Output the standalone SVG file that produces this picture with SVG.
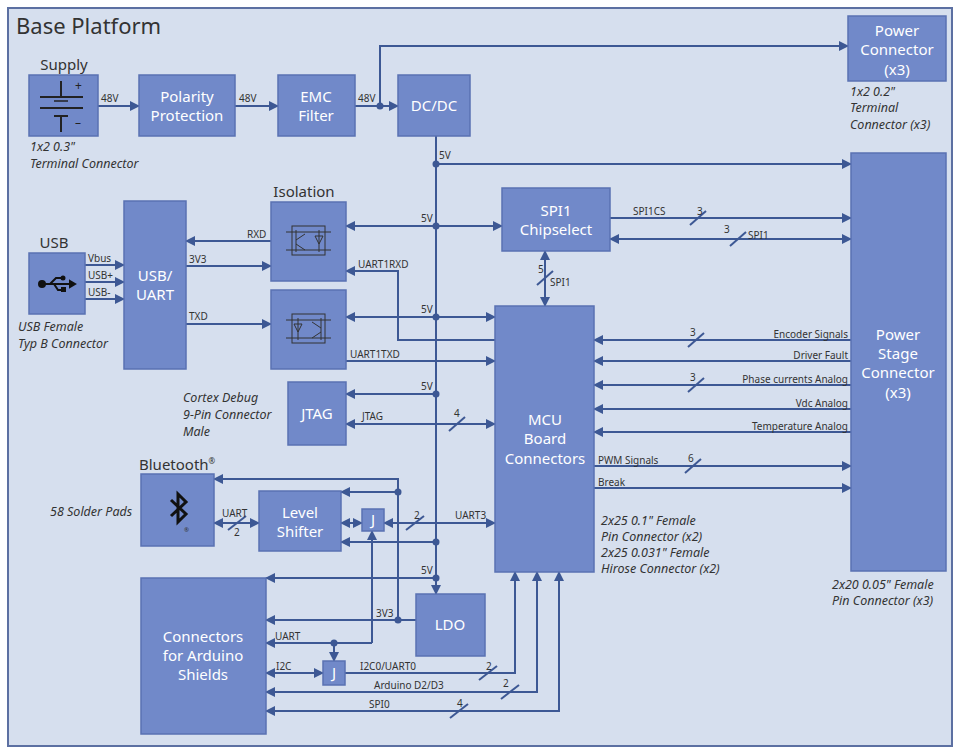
<svg xmlns="http://www.w3.org/2000/svg" width="960" height="754" viewBox="0 0 960 754">
<defs>
<marker id="a" viewBox="0 0 10 10" refX="9" refY="5" markerWidth="5" markerHeight="5" orient="auto-start-reverse"><path d="M0,0 L10,5 L0,10 z" fill="#3d5894"/></marker>
<style>
.b{fill:#7189c9;stroke:#5a72b2;stroke-width:1.5}
.t{font-family:"Noto Sans","Open Sans",sans-serif;font-size:15px;fill:#fff;text-anchor:middle}
.l{font-family:"Noto Sans","Open Sans",sans-serif;font-size:10px;fill:#333}
.i{font-family:"Noto Sans","Open Sans",sans-serif;font-size:12.5px;fill:#333;font-style:italic}
.h{font-family:"Noto Sans","Open Sans",sans-serif;font-size:15px;fill:#333}
.c path,.c line{fill:none;stroke:#3d5894;stroke-width:2}
.e{marker-end:url(#a)}
.d{marker-end:url(#a);marker-start:url(#a)}
.s{stroke:#3d5894;stroke-width:1.5}
.dot{fill:#3d5894}
.ic{stroke:#222;fill:none;stroke-width:2}
</style>
</defs>
<rect x="0" y="0" width="960" height="754" fill="#fff"/>
<rect x="8" y="8" width="944" height="738" fill="#d6dfee" stroke="#5c70a2" stroke-width="2"/>
<text x="16" y="34" font-family="Noto Sans,Open Sans,sans-serif" font-size="22" fill="#333">Base Platform</text>

<g class="c">
<line class="e" x1="98" y1="106" x2="139" y2="106"/>
<line class="e" x1="235" y1="106" x2="278" y2="106"/>
<line class="e" x1="355" y1="106" x2="398" y2="106"/>
<path class="e" d="M380,106 V46 H848"/>
<path class="e" d="M436,136 V594"/>
<line class="e" x1="436" y1="164" x2="851" y2="164"/>
<line class="d" x1="346" y1="226" x2="502" y2="226"/>
<line class="e" x1="271" y1="241" x2="186" y2="241"/>
<line class="e" x1="186" y1="266" x2="271" y2="266"/>
<path class="e" d="M495,340 H398 V271 H346"/>
<line class="d" x1="346" y1="317" x2="495" y2="317"/>
<line class="e" x1="186" y1="324" x2="271" y2="324"/>
<line class="e" x1="346" y1="361" x2="495" y2="361"/>
<line class="e" x1="85" y1="265" x2="124" y2="265"/>
<line class="e" x1="85" y1="282" x2="124" y2="282"/>
<line class="e" x1="85" y1="299" x2="124" y2="299"/>
<line class="e" x1="436" y1="394" x2="346" y2="394"/>
<line class="d" x1="346" y1="424" x2="495" y2="424"/>
<line class="e" x1="610" y1="218" x2="851" y2="218"/>
<line class="d" x1="610" y1="239" x2="851" y2="239"/>
<line class="d" x1="545" y1="251" x2="545" y2="306"/>
<line class="e" x1="851" y1="340" x2="594" y2="340"/>
<line class="e" x1="851" y1="361" x2="594" y2="361"/>
<line class="e" x1="851" y1="385" x2="594" y2="385"/>
<line class="e" x1="851" y1="409" x2="594" y2="409"/>
<line class="e" x1="851" y1="432" x2="594" y2="432"/>
<line class="e" x1="594" y1="466" x2="851" y2="466"/>
<line class="e" x1="594" y1="488" x2="851" y2="488"/>
<path class="e" d="M398,620 V479 H214"/>
<line class="e" x1="398" y1="492" x2="341" y2="492"/>
<line class="e" x1="416" y1="620" x2="266" y2="620"/>
<line class="d" x1="214" y1="523" x2="259" y2="523"/>
<line class="d" x1="341" y1="523" x2="362" y2="523"/>
<line class="d" x1="384" y1="523" x2="495" y2="523"/>
<line class="e" x1="436" y1="542" x2="341" y2="542"/>
<line class="e" x1="436" y1="578" x2="266" y2="578"/>
<path class="e" d="M372,643 V531"/>
<path class="e" d="M372,643 H266"/>
<line class="e" x1="334" y1="643" x2="334" y2="661"/>
<line class="d" x1="266" y1="673" x2="323" y2="673"/>
<path class="e" d="M345,673 H515 V572"/>
<path class="d" d="M266,692 H537 V572"/>
<path class="d" d="M266,711 H559 V572"/>
<!-- bus slashes -->
<line class="s" x1="690" y1="225" x2="706" y2="211"/>
<line class="s" x1="730" y1="246" x2="746" y2="232"/>
<line class="s" x1="537" y1="285" x2="553" y2="271"/>
<line class="s" x1="449" y1="431" x2="465" y2="417"/>
<line class="s" x1="688" y1="347" x2="704" y2="333"/>
<line class="s" x1="688" y1="392" x2="704" y2="378"/>
<line class="s" x1="685" y1="473" x2="701" y2="459"/>
<line class="s" x1="228" y1="530" x2="246" y2="516"/>
<line class="s" x1="406" y1="530" x2="424" y2="516"/>
<line class="s" x1="479" y1="680" x2="497" y2="666"/>
<line class="s" x1="501" y1="699" x2="519" y2="685"/>
<line class="s" x1="450" y1="718" x2="468" y2="704"/>
<g class="dot">
<circle cx="380" cy="106" r="3.5"/><circle cx="436" cy="164" r="3.5"/><circle cx="436" cy="226" r="3.5"/><circle cx="436" cy="317" r="3.5"/><circle cx="436" cy="394" r="3.5"/><circle cx="436" cy="542" r="3.5"/><circle cx="436" cy="578" r="3.5"/><circle cx="398" cy="492" r="3.5"/><circle cx="398" cy="620" r="3.5"/><circle cx="334" cy="643" r="3.5"/>
</g>
</g>

<g class="l">
<text x="101" y="102">48V</text><text x="239" y="102">48V</text><text x="358" y="102">48V</text>
<text x="439" y="159">5V</text><text x="421" y="222">5V</text><text x="421" y="313">5V</text><text x="421" y="390">5V</text><text x="421" y="574">5V</text>
<text x="247" y="238">RXD</text><text x="189" y="263">3V3</text><text x="358" y="268">UART1RXD</text>
<text x="189" y="320">TXD</text><text x="350" y="358">UART1TXD</text>
<text x="88" y="262">Vbus</text><text x="88" y="279">USB+</text><text x="88" y="296">USB-</text>
<text x="362" y="420">JTAG</text><text x="454" y="417">4</text>
<text x="633" y="215">SPI1CS</text><text x="697" y="215">3</text><text x="724" y="233">3</text><text x="748" y="239">SPI1</text>
<text x="538" y="273">5</text><text x="550" y="286">SPI1</text>
<text x="848" y="338" text-anchor="end">Encoder Signals</text><text x="690" y="336">3</text>
<text x="848" y="359" text-anchor="end">Driver Fault</text>
<text x="848" y="383" text-anchor="end">Phase currents Analog</text><text x="690" y="381">3</text>
<text x="848" y="407" text-anchor="end">Vdc  Analog</text>
<text x="848" y="430" text-anchor="end">Temperature Analog</text>
<text x="598" y="464">PWM Signals</text><text x="688" y="462">6</text>
<text x="598" y="486">Break</text>
<text x="222" y="517">UART</text><text x="234" y="536">2</text>
<text x="414" y="519">2</text><text x="455" y="519">UART3</text>
<text x="376" y="617">3V3</text><text x="275" y="640">UART</text><text x="276" y="670">I2C</text>
<text x="360" y="670">I2C0/UART0</text><text x="486" y="670">2</text>
<text x="374" y="689">Arduino D2/D3</text><text x="503" y="687">2</text>
<text x="369" y="708">SPI0</text><text x="457" y="707">4</text>
</g>

<g id="supply"><rect class="b" x="29" y="75" width="69" height="61"/>
<g class="ic"><line x1="40" y1="97" x2="83" y2="97"/><line x1="40" y1="108" x2="83" y2="108"/><line x1="61" y1="81" x2="61" y2="97"/><line x1="54" y1="101" x2="68" y2="101" stroke-width="1.5"/><line x1="54" y1="116" x2="68" y2="116"/><line x1="61" y1="116" x2="61" y2="132"/></g>
<text x="75" y="90" font-family="Noto Sans,sans-serif" font-size="12" fill="#222">+</text><text x="75" y="127" font-family="Noto Sans,sans-serif" font-size="12" fill="#222">–</text>
<text class="h" x="64" y="70" text-anchor="middle">Supply</text></g>
<g id="polarity"><rect class="b" x="139" y="75" width="96" height="61"/><text class="t" x="187" y="102">Polarity</text><text class="t" x="187" y="121">Protection</text></g>
<g id="emc"><rect class="b" x="278" y="75" width="77" height="61"/><text class="t" x="316" y="102">EMC</text><text class="t" x="316" y="121">Filter</text></g>
<g id="dcdc"><rect class="b" x="398" y="75" width="72" height="61"/><text class="t" x="434" y="111">DC/DC</text></g>
<g id="powerconn"><rect class="b" x="848" y="16" width="98" height="65"/><text class="t" x="897" y="36">Power</text><text class="t" x="897" y="55">Connector</text><text class="t" x="897" y="75">(x3)</text></g>
<g id="powerstage"><rect class="b" x="851" y="153" width="95" height="418"/><text class="t" x="898" y="340">Power</text><text class="t" x="898" y="359">Stage</text><text class="t" x="898" y="378">Connector</text><text class="t" x="898" y="398">(x3)</text></g>
<g id="spi1cs"><rect class="b" x="502" y="188" width="108" height="63"/><text class="t" x="556" y="216">SPI1</text><text class="t" x="556" y="235">Chipselect</text></g>
<g id="iso1"><rect class="b" x="271" y="202" width="75" height="79"/><g stroke="#333" fill="none" stroke-width="1"><rect x="292" y="226" width="33" height="29"/><line x1="286" y1="232" x2="331" y2="232"/><line x1="286" y1="250" x2="331" y2="250"/><path d="M296,230 V252 M296,240 L305,234 M296,244 L305,250 M319,230 V252 M315,236 L323,236 L319,244 Z"/></g><text class="h" x="304" y="197" text-anchor="middle">Isolation</text></g>
<g id="iso2"><rect class="b" x="271" y="290" width="75" height="79"/><g stroke="#333" fill="none" stroke-width="1"><rect x="292" y="314" width="33" height="29"/><line x1="286" y1="320" x2="331" y2="320"/><line x1="286" y1="338" x2="331" y2="338"/><path d="M321,318 V340 M321,328 L312,322 M321,332 L312,338 M298,318 V340 M294,324 L302,324 L298,332 Z"/></g></g>
<g id="usbuart"><rect class="b" x="124" y="201" width="62" height="168"/><text class="t" x="155" y="281">USB/</text><text class="t" x="155" y="300">UART</text></g>
<g id="usb"><rect class="b" x="29" y="253" width="56" height="61"/><g stroke="#111" stroke-width="2" fill="#111"><circle cx="42" cy="284" r="3"/><line x1="42" y1="284" x2="70" y2="284"/><path d="M70,281 L75,284 L70,287 Z"/><path d="M50,284 L56,278 H62" fill="none"/><path d="M54,284 L58,290 H63" fill="none"/><circle cx="63" cy="278" r="1.5"/><rect x="62" y="288" width="3" height="3"/></g><text class="h" x="54" y="248" text-anchor="middle">USB</text></g>
<g id="jtag"><rect class="b" x="288" y="382" width="58" height="63"/><text class="t" x="317" y="419">JTAG</text></g>
<g id="mcu"><rect class="b" x="495" y="306" width="99" height="266"/><text class="t" x="545" y="425">MCU</text><text class="t" x="545" y="444">Board</text><text class="t" x="545" y="464">Connectors</text></g>
<g id="bluetooth"><rect class="b" x="141" y="474" width="73" height="72"/><path d="M171,500 L186,514 L178,522 V494 L186,502 L171,516" stroke="#111" stroke-width="3" fill="none"/><text x="184" y="532" font-size="6" fill="#333" font-family="Noto Sans,sans-serif">®</text><text class="h" x="139" y="470">Bluetooth<tspan font-size="8" dy="-6">®</tspan></text></g>
<g id="levelshifter"><rect class="b" x="259" y="491" width="82" height="60"/><text class="t" x="300" y="518">Level</text><text class="t" x="300" y="537">Shifter</text></g>
<g id="j1"><rect class="b" x="362" y="509" width="22" height="22"/><text class="t" x="373" y="525" font-size="13">J</text></g>
<g id="arduino"><rect class="b" x="141" y="578" width="125" height="156"/><text class="t" x="203" y="642">Connectors</text><text class="t" x="203" y="661">for Arduino</text><text class="t" x="203" y="680">Shields</text></g>
<g id="ldo"><rect class="b" x="416" y="594" width="69" height="62"/><text class="t" x="450" y="630">LDO</text></g>
<g id="j2"><rect class="b" x="323" y="661" width="22" height="24"/><text class="t" x="334" y="678" font-size="13">J</text></g>

<g class="i">
<text x="30" y="151">1x2 0.3"</text><text x="30" y="168">Terminal Connector</text>
<text x="18" y="331">USB Female</text><text x="18" y="348">Typ B Connector</text>
<text x="183" y="402">Cortex Debug</text><text x="183" y="419">9-Pin Connector</text><text x="183" y="436">Male</text>
<text x="50" y="516">58 Solder Pads</text>
<text x="601" y="525">2x25 0.1" Female</text><text x="601" y="541">Pin Connector (x2)</text><text x="601" y="557">2x25 0.031" Female</text><text x="601" y="573">Hirose Connector (x2)</text>
<text x="832" y="589">2x20 0.05" Female</text><text x="832" y="605">Pin Connector (x3)</text>
<text x="850" y="96">1x2 0.2"</text><text x="850" y="112">Terminal</text><text x="850" y="129">Connector (x3)</text>
</g>
</svg>
